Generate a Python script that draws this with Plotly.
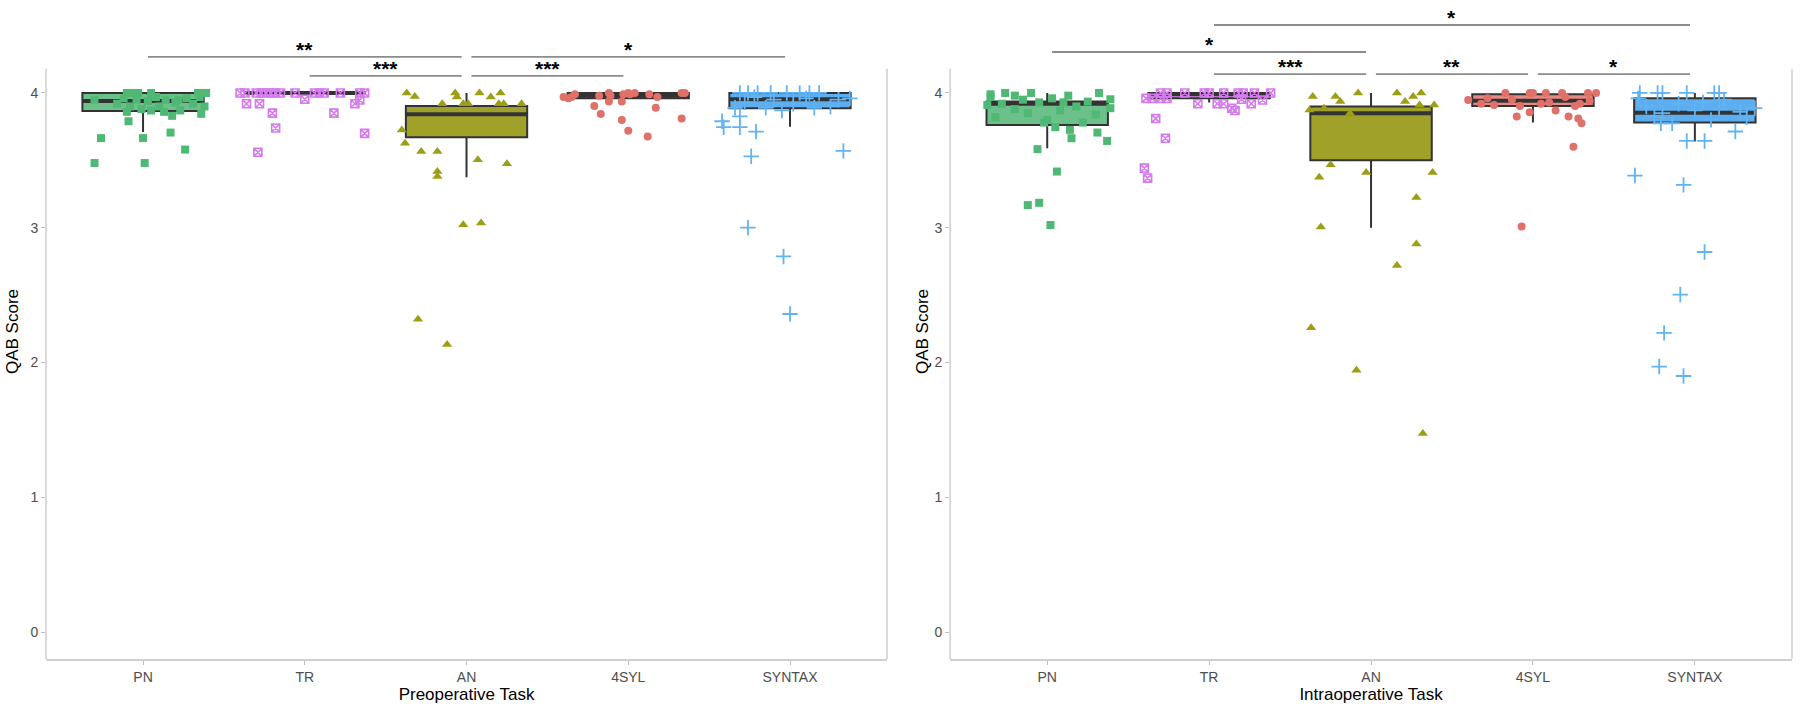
import plotly.graph_objects as go

# ---------------- data ----------------
categories = ["PN", "TR", "AN", "4SYL", "SYNTAX"]
cat_pos = [1, 2, 3, 4, 5]

# box statistics (Preoperative)
pre_q1 = [3.867, 4.0, 3.672, 3.96, 3.886]
pre_median = [3.94, 4.0, 3.842, 3.98, 3.953]
pre_q3 = [4.0, 4.0, 3.904, 4.0, 4.0]
pre_lower = [3.71, 4.0, 3.375, 3.96, 3.75]
pre_upper = [4.0, 4.0, 4.0, 4.0, 4.0]

# box statistics (Intraoperative)
intra_q1 = [3.763, 3.96, 3.5, 3.904, 3.78]
intra_median = [3.92, 3.99, 3.85, 3.943, 3.854]
intra_q3 = [3.936, 4.0, 3.9, 3.99, 3.96]
intra_lower = [3.59, 3.93, 3.0, 3.78, 3.64]
intra_upper = [4.0, 4.0, 4.0, 4.0, 4.0]

# individual scores (y) and their horizontal jitter (dx) -- Preoperative
pre_PN_y = [3.79, 3.665, 3.665, 3.706, 3.58, 3.48, 3.48, 3.83, 3.845,
            4.0, 4.0, 4.0, 4.0, 4.0, 4.0, 4.0,
            3.95, 3.92, 3.96, 3.90, 3.95, 3.88, 3.94, 3.97, 3.90, 3.95,
            3.93, 3.87, 3.96, 3.92, 3.87, 3.86, 3.86, 3.97, 3.90, 3.95]
pre_PN_dx = [-0.09, -0.26, 0.00, 0.17, 0.26, -0.30, 0.01, 0.18, 0.36,
             -0.10, -0.07, -0.03, 0.05, 0.34, 0.37, 0.39,
             -0.30, -0.16, -0.12, -0.08, -0.04, -0.01, 0.03, 0.08, 0.10, 0.14,
             0.20, 0.23, 0.27, 0.31, 0.05, 0.13, -0.10, 0.35, 0.38, 0.22]

pre_TR_y = [4.0] * 15 + [3.92, 3.92, 3.953, 3.92, 3.948, 3.85, 3.85, 3.74, 3.70, 3.56]
pre_TR_dx = [-0.40, -0.37, -0.30, -0.27, -0.24, -0.21, -0.18, -0.15, -0.06, 0.06,
             0.09, 0.12, 0.22, 0.34, 0.37,
             -0.36, -0.28, 0.00, 0.31, 0.34, -0.20, 0.18, -0.18, 0.37, -0.29]

pre_AN_y = [4.0, 3.973, 4.0, 3.97, 4.0, 3.97, 4.0, 3.92, 3.92, 3.92, 3.92, 3.92, 3.92,
            3.726, 3.627, 3.565, 3.565, 3.504, 3.474, 3.417, 3.38, 3.022, 3.035, 2.32, 2.133]
pre_AN_dx = [-0.37, -0.32, -0.07, -0.06, 0.08, 0.15, 0.21, -0.15, -0.02, 0.01, 0.20, 0.23, 0.34,
             -0.40, -0.38, -0.28, -0.18, 0.07, 0.25, -0.18, -0.18, -0.02, 0.09, -0.30, -0.12]

pre_4SYL_y = [3.97, 3.96, 3.97, 3.99, 3.98, 4.0, 3.98, 3.99, 4.0, 3.99, 4.0, 3.99, 3.97, 4.0, 4.0,
              3.936, 3.936, 3.904, 3.891, 3.844, 3.80, 3.81, 3.72, 3.676]
pre_4SYL_dx = [-0.40, -0.37, -0.35, -0.33, -0.18, -0.12, -0.11, -0.03, 0.00, 0.01, 0.04, 0.13, 0.18, 0.33, 0.35,
               -0.12, -0.04, -0.21, 0.17, -0.17, -0.04, 0.33, 0.00, 0.12]

pre_SYN_y = [3.79, 3.746, 3.826, 3.746, 3.713, 3.53, 3.57, 3.0, 2.787, 2.36,
             4.0, 4.0, 4.0, 4.0, 4.0, 4.0, 4.0, 4.0,
             3.89, 3.89, 3.89, 3.96, 3.93, 3.95, 3.92, 3.96, 3.90, 3.95, 3.87, 3.97]
pre_SYN_dx = [-0.42, -0.41, -0.31, -0.31, -0.21, -0.24, 0.33, -0.26, -0.04, 0.00,
              -0.31, -0.26, -0.20, -0.12, -0.02, 0.06, 0.12, 0.18,
              -0.34, -0.15, 0.15, 0.37, -0.28, -0.10, 0.02, 0.10, 0.25, 0.30, -0.05, -0.22]

# Intraoperative
intra_PN_y = [3.99, 4.0, 3.98, 4.0, 3.96, 3.98, 4.0,
              3.97, 3.91, 3.953, 3.887, 3.936,
              3.746, 3.726, 3.664, 3.706, 3.644, 3.583, 3.417, 3.168, 3.185, 3.02,
              3.92, 3.88, 3.85, 3.93, 3.80, 3.87, 3.93, 3.90, 3.78, 3.84, 3.95, 3.82, 3.78]
intra_PN_dx = [-0.35, -0.26, -0.20, -0.10, 0.03, 0.13, 0.32,
               -0.35, -0.37, 0.39, 0.39, 0.25,
               0.05, 0.14, 0.15, 0.31, 0.37, -0.06, 0.06, -0.12, -0.05, 0.02,
               -0.28, -0.20, -0.12, -0.05, 0.00, 0.08, 0.10, 0.18, 0.22, 0.30, -0.15, -0.32, -0.02]

intra_TR_y = [4.0] * 10 + [3.96] * 4 + [3.92, 3.92, 3.92, 3.92, 3.948, 3.953, 3.887, 3.87,
                                         3.81, 3.664, 3.442, 3.368]
intra_TR_dx = [-0.30, -0.26, -0.15, -0.03, 0.00, 0.09, 0.18, 0.21, 0.28, 0.38,
               -0.39, -0.35, -0.30, -0.26,
               -0.07, 0.05, 0.09, 0.26, 0.33, 0.20, 0.14, 0.16, -0.33, -0.27, -0.40, -0.38]

intra_AN_y = [3.973, 3.973, 3.936, 4.0, 4.0, 3.936, 3.973, 4.0, 3.91, 3.91, 3.874, 3.887, 3.85,
              3.467, 3.375, 3.41, 3.41, 3.225, 3.005, 2.88, 2.72, 2.257, 1.943, 1.474]
intra_AN_dx = [-0.36, -0.22, -0.19, -0.08, 0.16, 0.21, 0.26, 0.31, 0.30, 0.39, -0.38, -0.29, -0.13,
               -0.25, -0.32, -0.03, 0.38, 0.28, -0.31, 0.28, 0.16, -0.37, -0.09, 0.32]

intra_4SYL_y = [4.0, 4.0, 4.0, 4.0, 4.0, 4.0, 4.0,
                3.948, 3.92, 3.91, 3.904, 3.92, 3.904, 3.92,
                3.825, 3.857, 3.87, 3.825, 3.81, 3.775, 3.60, 3.01,
                3.96, 3.95, 3.93, 3.97, 3.94]
intra_4SYL_dx = [-0.17, -0.02, 0.00, 0.08, 0.18, 0.34, 0.39,
                 -0.40, -0.32, -0.24, -0.08, 0.05, 0.26, 0.29,
                 -0.10, -0.02, 0.14, 0.22, 0.28, 0.30, 0.25, -0.07,
                 -0.28, -0.13, 0.10, 0.20, 0.35]

intra_SYN_y = [4.0, 4.0, 4.0, 4.0, 4.0, 4.0,
               3.887, 3.775, 3.775, 3.714, 3.644, 3.644, 3.387, 3.318, 2.82, 2.504, 2.22, 1.97, 1.90,
               3.90, 3.85, 3.92, 3.87, 3.80, 3.95, 3.86, 3.83, 3.93, 3.88, 3.96, 3.82]
intra_SYN_dx = [-0.34, -0.23, -0.20, -0.05, 0.12, 0.15,
                0.37, -0.21, -0.14, 0.25, -0.05, 0.06, -0.37, -0.07, 0.06, -0.09, -0.19, -0.22, -0.07,
                -0.30, -0.20, -0.10, 0.00, 0.10, 0.18, 0.28, -0.25, 0.05, 0.15, -0.35, 0.32]

# significance brackets: (group a, group b, label, height)
pre_brackets = [(1, 3, "**", 4.267), (2, 3, "***", 4.126), (3, 5, "*", 4.267), (3, 4, "***", 4.126)]
intra_brackets = [(2, 5, "*", 4.504), (1, 3, "*", 4.304), (2, 3, "***", 4.14),
                  (3, 4, "**", 4.14), (4, 5, "*", 4.14)]

# ---------------- styling ----------------
point_color = {"PN": "#4FB874", "TR": "#D57BEE", "AN": "#9C9E14", "4SYL": "#E0716A", "SYNTAX": "#62B3F2"}
box_fill = {"PN": "#6CC18A", "TR": "#DE93F0", "AN": "#A0A128", "4SYL": "#E68A84", "SYNTAX": "#5CAEF0"}
symbols = {"PN": ("square", 8, 0), "TR": ("square-x-open", 8, 1.6), "AN": ("triangle-up", 9, 0),
           "4SYL": ("circle", 8, 0), "SYNTAX": ("cross-thin-open", 11, 1.8)}
FONT = "Liberation Sans, Arial, Helvetica, sans-serif"
EDGE = "#333333"
BOX_W = 0.75

fig = go.Figure()

panels = [
    ("x", "y", pre_q1, pre_median, pre_q3, pre_lower, pre_upper,
     [(pre_PN_y, pre_PN_dx), (pre_TR_y, pre_TR_dx), (pre_AN_y, pre_AN_dx),
      (pre_4SYL_y, pre_4SYL_dx), (pre_SYN_y, pre_SYN_dx)], pre_brackets),
    ("x2", "y2", intra_q1, intra_median, intra_q3, intra_lower, intra_upper,
     [(intra_PN_y, intra_PN_dx), (intra_TR_y, intra_TR_dx), (intra_AN_y, intra_AN_dx),
      (intra_4SYL_y, intra_4SYL_dx), (intra_SYN_y, intra_SYN_dx)], intra_brackets),
]

shapes = []
annotations = []
for xa, ya, q1, med, q3, lo, up, pts, brackets in panels:
    for i, cat in enumerate(categories):
        pos = cat_pos[i]
        fig.add_trace(go.Box(
            x=[pos], q1=[q1[i]], median=[med[i]], q3=[q3[i]],
            lowerfence=[lo[i]], upperfence=[up[i]],
            width=BOX_W, whiskerwidth=0, fillcolor=box_fill[cat],
            line=dict(color=EDGE, width=2), boxpoints=False,
            xaxis=xa, yaxis=ya, showlegend=False, hoverinfo="skip"))
        # thicker median line like ggplot
        fig.add_trace(go.Scatter(
            x=[pos - BOX_W / 2, pos + BOX_W / 2], y=[med[i], med[i]], mode="lines",
            line=dict(color=EDGE, width=4), xaxis=xa, yaxis=ya,
            showlegend=False, hoverinfo="skip"))
    for i, cat in enumerate(categories):
        yv, dx = pts[i]
        sym, size, lw = symbols[cat]
        fig.add_trace(go.Scatter(
            x=[cat_pos[i] + d for d in dx], y=yv, mode="markers",
            marker=dict(symbol=sym, size=size, color=point_color[cat],
                        line=dict(width=lw, color=point_color[cat])),
            xaxis=xa, yaxis=ya, showlegend=False, cliponaxis=False))
    xdom = "x domain" if xa == "x" else "x2 domain"
    # panel border: left and right sides stop at the panel top
    for xv in (0, 1):
        shapes.append(dict(type="line", xref=xdom, yref=ya, x0=xv, x1=xv, y0=-0.2, y1=4.18,
                           line=dict(color="#CFCFCF", width=1.5)))
    for a, b, lab, h in brackets:
        shapes.append(dict(type="line", xref=xa, yref=ya, x0=a + 0.03, x1=b - 0.03, y0=h, y1=h,
                           line=dict(color="#8C8C8C", width=1.8)))
        annotations.append(dict(x=(a + b) / 2, y=h, xref=xa, yref=ya, text="<b>" + lab + "</b>",
                                showarrow=False, yanchor="bottom", yshift=-6,
                                font=dict(family=FONT, size=21, color="black")))

axis_common = dict(showgrid=False, zeroline=False, ticks="outside", ticklen=4,
                   tickcolor="#BDBDBD", tickwidth=1.2, automargin=False,
                   tickfont=dict(family=FONT, size=14, color="#4D4D4D"))
fig.update_layout(
    width=1800, height=715,
    margin=dict(l=46, r=8, t=4, b=56),
    paper_bgcolor="white", plot_bgcolor="white",
    font=dict(family=FONT),
    xaxis=dict(domain=[0, 0.4817], range=[0.4, 5.6], tickvals=cat_pos, ticktext=categories,
               showline=True, linecolor="#CFCFCF", linewidth=1.5, anchor="y",
               title=dict(text="Preoperative Task", font=dict(family=FONT, size=17, color="black"),
                          standoff=3), **axis_common),
    xaxis2=dict(domain=[0.5178, 1.0], range=[0.4, 5.6], tickvals=cat_pos, ticktext=categories,
                showline=True, linecolor="#CFCFCF", linewidth=1.5, anchor="y2",
                title=dict(text="Intraoperative Task", font=dict(family=FONT, size=17, color="black"),
                           standoff=3), **axis_common),
    yaxis=dict(domain=[0, 1], range=[-0.2, 4.66], tickvals=[0, 1, 2, 3, 4], showline=False,
               anchor="x", title=dict(text="QAB Score", font=dict(family=FONT, size=17, color="black"),
                                      standoff=7), **axis_common),
    yaxis2=dict(domain=[0, 1], range=[-0.2, 4.66], tickvals=[0, 1, 2, 3, 4], showline=False,
                anchor="x2", title=dict(text="QAB Score", font=dict(family=FONT, size=17, color="black"),
                                        standoff=1), **axis_common),
    shapes=shapes, annotations=annotations,
)

fig.write_html("out.html", config={"displayModeBar": False},
               post_script="document.body.style.margin='0';document.body.style.overflow='hidden';")
